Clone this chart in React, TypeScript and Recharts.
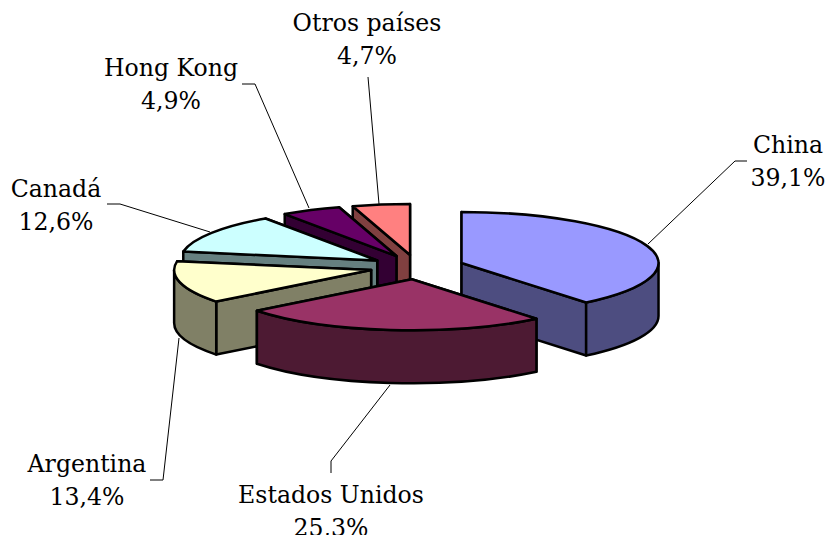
import React from "react";
import { PieChart, Pie } from "recharts";

const names = ["China", "Estados Unidos", "Argentina", "Canadá", "Hong Kong", "Otros países"];
const shares = [39.1, 25.3, 13.4, 12.6, 4.9, 4.7];
const topColors = ["#9999ff", "#993366", "#ffffcc", "#ccffff", "#660066", "#ff8080"];
const sideColors = ["#4d4d80", "#4d1a33", "#808066", "#668080", "#330033", "#804040"];
const drawOrder = ["Otros países", "Hong Kong", "Canadá", "Argentina", "China", "Estados Unidos"];
const data = names.map((name, i) => ({ name, value: shares[i] }));

const WIDTH = 829;
const HEIGHT = 535;
const CX = 417;
const CY = 267.1;
const RADIUS = 197;
const TILT = 51 / 197;
const DEPTH = 53;
const EXPLODE = 0.24;
const STROKE = 2.5;
const FONT = "'DejaVu Serif', serif";
const FONT_SIZE = 23.6;

// Label anchors in page pixels: [centre x, first baseline, second baseline]
const labelAnchors: Record<string, number[]> = {
  "China": [788, 153, 186],
  "Estados Unidos": [331, 503, 536],
  "Argentina": [87, 472, 505],
  "Canadá": [56, 197, 230],
  "Hong Kong": [171, 76, 109],
  "Otros países": [367, 31, 64],
};
const leaders: Record<string, string> = {
  "China": "747,161 735,161 648,244",
  "Estados Unidos": "331,473 331,461 390,385",
  "Argentina": "150,480 163,480 179,338",
  "Canadá": "107,204 120,204 210,232",
  "Hong Kong": "242,84 255,84 309,208",
  "Otros países": "368,77 379,204",
};

const rad = (a: number) => (a * Math.PI) / 180;

function Slice3D(props: any) {
  const { cx, cy, outerRadius: r, startAngle, endAngle, midAngle, name } = props;
  const i = names.indexOf(name);
  const ry = r * TILT;
  const mid = midAngle ?? (startAngle + endAngle) / 2;
  const ax = cx + EXPLODE * r * Math.cos(rad(mid));
  const ay = cy - EXPLODE * ry * Math.sin(rad(mid));
  const pt = (a: number) => [ax + r * Math.cos(rad(a)), ay - ry * Math.sin(rad(a))];
  const arc = (from: number, to: number, dy = 0) => {
    const [x, y] = pt(to);
    const large = Math.abs(from - to) > 180 ? 1 : 0;
    const sweep = to < from ? 1 : 0;
    return `A${r},${ry} 0 ${large} ${sweep} ${x},${y + dy}`;
  };
  const [sx, sy] = pt(startAngle);
  const [ex, ey] = pt(endAngle);
  const wall = (x: number, y: number) =>
    `M${ax},${ay} L${x},${y} L${x},${y + DEPTH} L${ax},${ay + DEPTH} Z`;
  const walls = [
    { y: sy, d: wall(sx, sy) },
    { y: ey, d: wall(ex, ey) },
  ].sort((p, q) => p.y - q.y);

  const rimStart = Math.min(startAngle, 0);
  const rimEnd = Math.max(endAngle, -180);
  let rim: string | null = null;
  if (rimStart > rimEnd) {
    const [x1, y1] = pt(rimStart);
    const [x2, y2] = pt(rimEnd);
    rim = `M${x1},${y1} ${arc(rimStart, rimEnd)} L${x2},${y2 + DEPTH} ${arc(rimEnd, rimStart, DEPTH)} Z`;
  }
  const common = { stroke: "#000", strokeWidth: STROKE, strokeLinejoin: "round" as const };
  return (
    <g>
      {walls.map((w, k) => (
        <path key={k} d={w.d} fill={sideColors[i]} {...common} />
      ))}
      {rim && <path d={rim} fill={sideColors[i]} {...common} />}
      <path d={`M${ax},${ay} L${sx},${sy} ${arc(startAngle, endAngle)} Z`} fill={topColors[i]} {...common} />
    </g>
  );
}

function SliceLabel(props: any) {
  const { name, value } = props;
  const [x, y1, y2] = labelAnchors[name];
  const style = { fontFamily: FONT, fontSize: FONT_SIZE, fill: "#000", textAnchor: "middle" as const };
  return (
    <g>
      <polyline points={leaders[name]} fill="none" stroke="#000" strokeWidth={1} />
      <text x={x} y={y1} style={style}>{name}</text>
      <text x={x} y={y2} style={style}>{`${value.toFixed(1).replace(".", ",")}%`}</text>
    </g>
  );
}

export default function App() {
  return (
    <div style={{ position: "absolute", left: 0, top: 0, width: WIDTH, height: HEIGHT }}>
      <PieChart width={WIDTH} height={HEIGHT} margin={{ top: 0, right: 0, bottom: 0, left: 0 }}>
        {drawOrder.map((n, idx) => (
          <Pie
            key={n}
            data={data}
            dataKey="value"
            nameKey="name"
            cx={CX}
            cy={CY}
            innerRadius={0}
            outerRadius={RADIUS}
            startAngle={90}
            endAngle={-270}
            paddingAngle={0}
            stroke="none"
            isAnimationActive={false}
            shape={(p: any) => (p.name === n ? <Slice3D {...p} /> : <g />)}
            label={idx === drawOrder.length - 1 ? (p: any) => <SliceLabel {...p} /> : false}
            labelLine={false}
          />
        ))}
      </PieChart>
    </div>
  );
}
